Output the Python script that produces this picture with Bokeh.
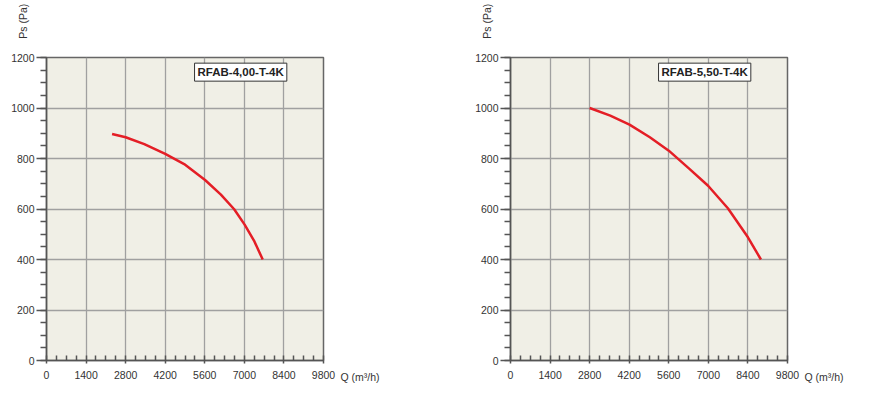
from math import pi

from bokeh.embed import file_html
from bokeh.layouts import row
from bokeh.models import FixedTicker, Label, Range1d
from bokeh.plotting import figure
from bokeh.resources import INLINE

# data
left_q = [2320, 2800, 3460, 4200, 4870, 5610, 6170, 6640, 7010, 7340, 7650]
left_ps = [897, 884, 857, 818, 778, 715, 657, 599, 538, 475, 400]
right_q = [2800, 3530, 4210, 4930, 5600, 6340, 6990, 7690, 8400, 8860]
right_ps = [1000, 970, 934, 884, 831, 758, 692, 603, 488, 400]

x_ticks = [0, 1400, 2800, 4200, 5600, 7000, 8400, 9800]
x_minor = list(range(0, 9801, 350))
y_ticks = [0, 200, 400, 600, 800, 1000, 1200]
y_minor = list(range(0, 1201, 50))

FONT = "Liberation Sans"


def fan_plot(q, ps, model, width, border_left, border_right):
    p = figure(width=width, height=406, x_range=Range1d(0, 9800), y_range=Range1d(0, 1200),
               output_backend="svg", toolbar_location=None,
               min_border_left=border_left, min_border_right=border_right,
               min_border_top=57, min_border_bottom=46)
    p.background_fill_color = "#F0EFE6"
    p.border_fill_color = "white"
    p.outline_line_color = "#666666"
    p.outline_line_width = 1.5

    p.xaxis.ticker = FixedTicker(ticks=x_ticks, minor_ticks=x_minor)
    p.yaxis.ticker = FixedTicker(ticks=y_ticks, minor_ticks=y_minor)
    for ax in (p.xaxis, p.yaxis):
        ax.axis_line_color = "#555555"
        ax.axis_line_width = 1.5
        ax.major_tick_line_color = "#555555"
        ax.minor_tick_line_color = "#555555"
        ax.major_tick_line_width = 1.5
        ax.minor_tick_line_width = 1.5
        ax.major_label_text_font = FONT
        ax.major_label_text_font_size = "10.5px"
        ax.major_label_text_color = "#333333"
        ax.major_tick_in = 0
        ax.minor_tick_in = 0
    p.xaxis.major_tick_out = 3
    p.xaxis.minor_tick_in = 5
    p.xaxis.minor_tick_out = 0
    p.xaxis.major_label_standoff = 7
    p.yaxis.major_tick_out = 10
    p.yaxis.minor_tick_out = 6
    p.yaxis.major_label_standoff = 2

    p.grid.grid_line_color = "#A0A0A0"
    p.grid.grid_line_width = 1.3

    p.line(q, ps, line_color="#E41E26", line_width=2.5)

    p.add_layout(Label(x=6870, y=1142, text=model, text_align="center", text_baseline="middle",
                       text_font=FONT, text_font_style="bold", text_font_size="11.5px",
                       text_color="#222222", background_fill_color="white",
                       border_line_color="#333333", border_line_width=1, padding=3))
    # labels outside the frame go into side panels so they are not clipped
    p.add_layout(Label(x=-840, y=1344, text="Ps (Pa)", angle=pi / 2, text_align="center",
                       text_baseline="middle", text_font=FONT, text_font_size="10.5px",
                       text_color="#333333"), "above")
    p.add_layout(Label(x=10400, y=-67, text="Q (m³/h)", text_align="left", text_baseline="middle",
                       text_font=FONT, text_font_size="10.5px", text_color="#333333"), "right")
    return p


p1 = fan_plot(left_q, left_ps, "RFAB-4,00-T-4K", 472, 46, 149)
p2 = fan_plot(right_q, right_ps, "RFAB-5,50-T-4K", 403, 38, 88)

p = row(p1, p2)
open("out.html", "w").write(file_html(p, INLINE))
